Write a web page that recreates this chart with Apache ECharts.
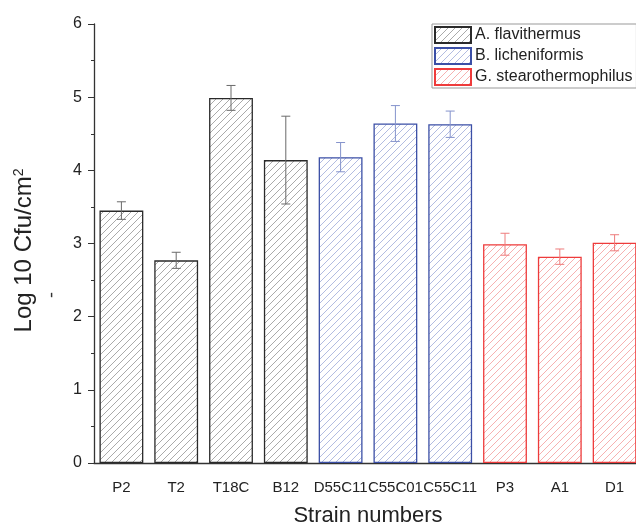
<!DOCTYPE html>
<html>
<head>
<meta charset="utf-8">
<script src="https://cdn.jsdelivr.net/npm/echarts@6/dist/echarts.min.js"></script>
<style>
  html, body { margin: 0; padding: 0; background: #fff; }
  #chart { width: 636px; height: 524px; }
</style>
</head>
<body>
<div id="chart"></div>
<script>
const categories = ["P2", "T2", "T18C", "B12", "D55C11", "C55C01", "C55C11", "P3", "A1", "D1"];
const means = [3.45, 2.77, 4.99, 4.14, 4.18, 4.64, 4.63, 2.99, 2.82, 3.01];
const errors = [0.12, 0.11, 0.17, 0.6, 0.2, 0.245, 0.18, 0.15, 0.105, 0.11];
const species = ["A. flavithermus", "B. licheniformis", "G. stearothermophilus"];
const speciesOf = [0, 0, 0, 0, 1, 1, 1, 2, 2, 2];

const font = "'Liberation Sans', Arial, sans-serif";
const borderColors = ["#2a2a2a", "#3b4fa6", "#ee3b3b"];
const hatchColors = ["#a0a0a0", "#a9b4de", "#f5a8a8"];
const errColors = ["#6a6a6a", "#8593cc", "#ee7c7c"];

// diagonal "/" hatch tile
function hatch(color) {
  const n = 7;
  const c = document.createElement("canvas");
  c.width = n;
  c.height = n;
  const ctx = c.getContext("2d");
  ctx.strokeStyle = color;
  ctx.lineWidth = 0.9;
  ctx.beginPath();
  ctx.moveTo(-1, n + 1); ctx.lineTo(n + 1, -1);
  ctx.moveTo(-1, 1); ctx.lineTo(1, -1);
  ctx.moveTo(n - 1, n + 1); ctx.lineTo(n + 1, n - 1);
  ctx.stroke();
  return { image: c, repeat: "repeat" };
}

const barSeries = species.map((name, s) => ({
  type: "bar",
  name,
  xAxisIndex: 0,
  barWidth: "80%",
  barGap: "-100%",
  itemStyle: { color: hatch(hatchColors[s]), borderColor: borderColors[s], borderWidth: 1.3 },
  data: means.map((v, i) => (speciesOf[i] === s ? v : "-")),
}));

const errorSeries = {
  type: "custom",
  name: "error",
  xAxisIndex: 0,
  z: 5,
  data: means.map((v, i) => [i, v - errors[i], v + errors[i]]),
  encode: { x: 0, y: [1, 2] },
  renderItem(params, api) {
    const i = api.value(0);
    const lo = api.coord([i, api.value(1)]);
    const hi = api.coord([i, api.value(2)]);
    const w = 4.5;
    const style = { stroke: errColors[speciesOf[i]], lineWidth: 1 };
    return {
      type: "group",
      children: [
        { type: "line", shape: { x1: hi[0], y1: hi[1], x2: lo[0], y2: lo[1] }, style },
        { type: "line", shape: { x1: hi[0] - w, y1: hi[1], x2: hi[0] + w, y2: hi[1] }, style },
        { type: "line", shape: { x1: lo[0] - w, y1: lo[1], x2: lo[0] + w, y2: lo[1] }, style },
      ],
    };
  },
};

const chart = echarts.init(document.getElementById("chart"), null, { renderer: "canvas" });
chart.setOption({
  animation: false,
  backgroundColor: "#fff",
  textStyle: { fontFamily: font },
  grid: { left: 94, right: -6, top: 24, bottom: 61, containLabel: false, outerBoundsMode: "none" },
  legend: {
    data: species,
    orient: "vertical",
    left: 432,
    top: 24,
    icon: "rect",
    itemWidth: 36,
    itemHeight: 16,
    itemGap: 3,
    padding: [2, 4, 2, 2],
    borderColor: "#999",
    borderWidth: 1,
    textStyle: { fontSize: 16, color: "#222", fontFamily: font, padding: [0, 0, 0, -1] },
  },
  xAxis: [
    {
      type: "category",
      data: categories,
      position: "bottom",
      name: "Strain numbers",
      nameLocation: "middle",
      nameGap: 42,
      nameTextStyle: { fontSize: 22, color: "#222", fontFamily: font },
      axisLine: { lineStyle: { color: "#333", width: 1.3 } },
      axisTick: { alignWithLabel: true, length: 8, lineStyle: { color: "#333" } },
      axisLabel: { interval: 0, fontSize: 15, color: "#222", margin: 17, fontFamily: font },
    },
    {
      type: "category",
      data: categories,
      position: "bottom",
      axisLine: { show: false },
      axisTick: { alignWithLabel: false, length: 4, lineStyle: { color: "#333" } },
      axisLabel: { show: false },
    },
  ],
  yAxis: {
    type: "value",
    min: 0,
    max: 6,
    interval: 1,
    name: "Log 10 Cfu/cm{sup|2}",
    nameLocation: "middle",
    nameGap: 57,
    nameTextStyle: {
      fontSize: 24,
      color: "#222",
      fontFamily: font,
      padding: [0, 14, 0, 0],
      rich: { sup: { fontSize: 14, color: "#222", fontFamily: font, verticalAlign: "top", padding: [0, 0, 11, 0] } },
    },
    axisLine: { show: true, lineStyle: { color: "#333", width: 1.3 } },
    axisTick: { show: true, length: 6, lineStyle: { color: "#333" } },
    minorTick: { show: true, splitNumber: 2, length: 3, lineStyle: { color: "#333" } },
    splitLine: { show: false },
    axisLabel: { fontSize: 16, color: "#222", margin: 12, fontFamily: font },
  },
  graphic: [
    {
      type: "text",
      x: 52,
      y: 295,
      rotation: Math.PI / 2,
      style: { text: "-", fontSize: 18, fill: "#333", align: "center", verticalAlign: "middle", fontFamily: font },
    },
  ],
  series: [...barSeries, errorSeries],
});
</script>
</body>
</html>
